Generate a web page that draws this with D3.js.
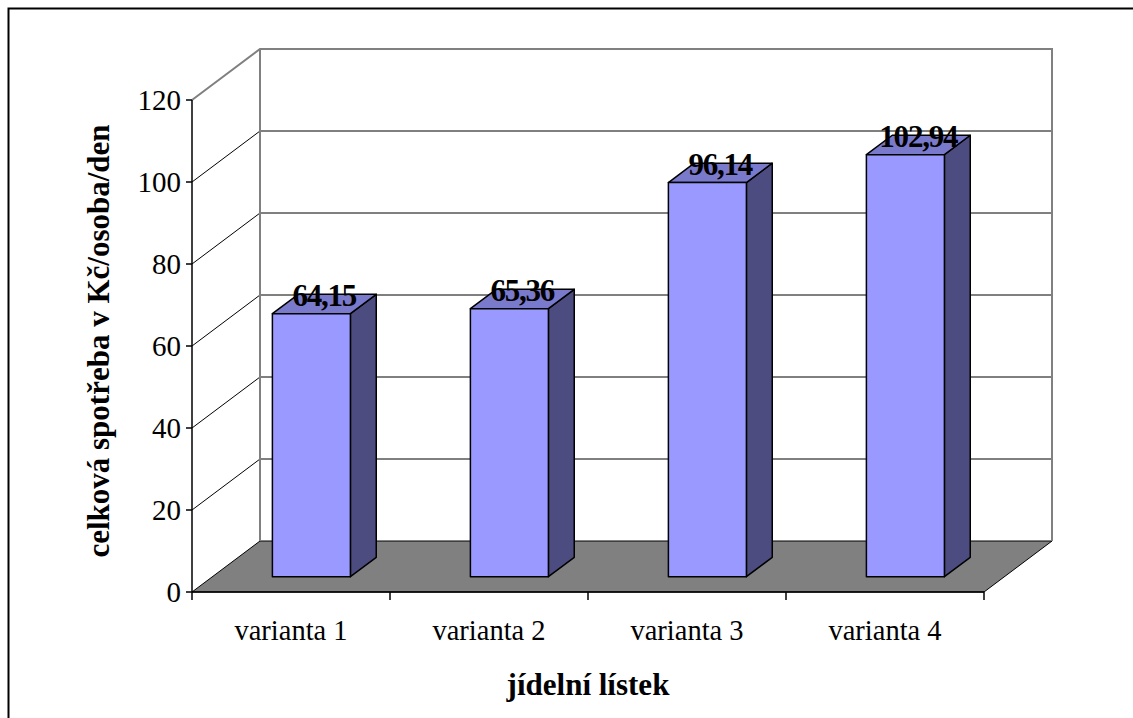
<!DOCTYPE html>
<html><head><meta charset="utf-8">
<script src="https://cdn.jsdelivr.net/npm/d3@7"></script>
<style>body{margin:0;background:#fff}svg{display:block}</style>
</head><body>
<svg id="c" width="1133" height="718"></svg>
<script>
const categories = ["varianta 1", "varianta 2", "varianta 3", "varianta 4"];
const values = [64.15, 65.36, 96.14, 102.94];
const valueLabels = ["64,15", "65,36", "96,14", "102,94"];
const yTicks = [0, 20, 40, 60, 80, 100, 120];
const yTitle = "celková spotřeba v Kč/osoba/den";
const xTitle = "jídelní lístek";

const svg = d3.select("#c");
const font = "'Liberation Serif','Times New Roman',serif";
const DX = 68, DY = 51;           // full depth offset
const BF = 0.30, BB = 0.68;       // bar front/back depth fraction

const y = d3.scaleLinear().domain([0, 120]).range([592, 100]);
const x = d3.scaleBand().domain(categories).range([192, 984]).paddingInner(0.606).paddingOuter(0.303);
const xc = d3.scaleBand().domain(categories).range([192, 984]);

const P = (px, v, d) => [px + d * DX, y(v) - d * DY];
const poly = pts => "M" + pts.map(p => p.join(",")).join("L") + "Z";

// outer border
svg.append("rect").attr("x", 8.5).attr("y", 8.5).attr("width", 1130).attr("height", 720)
  .attr("fill", "none").attr("stroke", "#000").attr("stroke-width", 2);

const x0 = 192, x1 = 984;
// floor
svg.append("path").attr("d", poly([P(x0, 0, 0), P(x0, 0, 1), P(x1, 0, 1), P(x1, 0, 0)]))
  .attr("fill", "#808080").attr("stroke", "#000").attr("stroke-width", 1);

// gridlines
const grid = yTicks.filter(t => t > 0 && t < 120);
svg.selectAll(".gl").data(grid).enter().append("path")
  .attr("d", t => "M" + P(x0, t, 0).join(",") + "L" + P(x0, t, 1).join(",") + "L" + P(x1, t, 1).join(","))
  .attr("fill", "none").attr("stroke", "#000").attr("stroke-width", 1);

// walls outline (gray)
svg.append("path")
  .attr("d", "M" + P(x0, 120, 0).join(",") + "L" + P(x0, 120, 1).join(",") + "L" + P(x1, 120, 1).join(",") + "L" + P(x1, 0, 1).join(","))
  .attr("fill", "none").attr("stroke", "#808080").attr("stroke-width", 2);
svg.append("path")
  .attr("d", "M" + P(x0, 120, 1).join(",") + "L" + P(x0, 0, 1).join(","))
  .attr("fill", "none").attr("stroke", "#808080").attr("stroke-width", 2);

// axes lines
svg.append("line").attr("x1", x0).attr("x2", x0).attr("y1", y(120)).attr("y2", y(0))
  .attr("stroke", "#000").attr("stroke-width", 1.5);
svg.append("line").attr("x1", x0).attr("x2", x1).attr("y1", y(0)).attr("y2", y(0))
  .attr("stroke", "#000").attr("stroke-width", 1.5);

// y ticks
svg.selectAll(".yt").data(yTicks).enter().append("line")
  .attr("x1", x0 - 6).attr("x2", x0).attr("y1", d => y(d)).attr("y2", d => y(d))
  .attr("stroke", "#000").attr("stroke-width", 1.5);
svg.selectAll(".yl").data(yTicks).enter().append("text")
  .attr("x", x0 - 11).attr("y", d => y(d)).attr("dy", "0.35em")
  .attr("text-anchor", "end").attr("font-family", font).attr("font-size", 29)
  .text(d => d);

// x ticks
const xt = categories.map(c => xc(c)).concat([x1]);
svg.selectAll(".xt").data(xt).enter().append("line")
  .attr("x1", d => d).attr("x2", d => d).attr("y1", y(0)).attr("y2", y(0) + 8)
  .attr("stroke", "#000").attr("stroke-width", 1.5);
svg.selectAll(".xl").data(categories).enter().append("text")
  .attr("x", d => xc(d) + xc.bandwidth() / 2).attr("y", 640)
  .attr("text-anchor", "middle").attr("font-family", font).attr("font-size", 28.5)
  .text(d => d);

// bars
const bars = svg.selectAll(".bar").data(categories.map((c, i) => ({ c, v: values[i], l: valueLabels[i] })))
  .enter().append("g");
bars.each(function (d) {
  const g = d3.select(this);
  const l = x(d.c), r = x(d.c) + x.bandwidth();
  g.append("path").attr("d", poly([P(r, 0, BF), P(r, 0, BB), P(r, d.v, BB), P(r, d.v, BF)]))
    .attr("fill", "#4C4C80").attr("stroke", "#000").attr("stroke-width", 1.5).attr("stroke-linejoin", "round");
  g.append("path").attr("d", poly([P(l, d.v, BF), P(l, d.v, BB), P(r, d.v, BB), P(r, d.v, BF)]))
    .attr("fill", "#7A7ACC").attr("stroke", "#000").attr("stroke-width", 1.5).attr("stroke-linejoin", "round");
  g.append("path").attr("d", poly([P(l, 0, BF), P(r, 0, BF), P(r, d.v, BF), P(l, d.v, BF)]))
    .attr("fill", "#9999FF").attr("stroke", "#000").attr("stroke-width", 1.5).attr("stroke-linejoin", "round");
  const cm = P((l + r) / 2, d.v, (BF + BB) / 2);
  g.append("text").attr("x", cm[0]).attr("y", cm[1] + 2)
    .attr("text-anchor", "middle").attr("font-family", font).attr("font-size", 31)
    .attr("font-weight", "bold").attr("letter-spacing", -1.2).text(d.l);
});

// titles
svg.append("text").attr("transform", "translate(109,341) rotate(-90)")
  .attr("text-anchor", "middle").attr("font-family", font).attr("font-size", 31)
  .attr("font-weight", "bold").text(yTitle);
svg.append("text").attr("x", 588).attr("y", 695)
  .attr("text-anchor", "middle").attr("font-family", font).attr("font-size", 31)
  .attr("font-weight", "bold").text(xTitle);
</script>
</body></html>
